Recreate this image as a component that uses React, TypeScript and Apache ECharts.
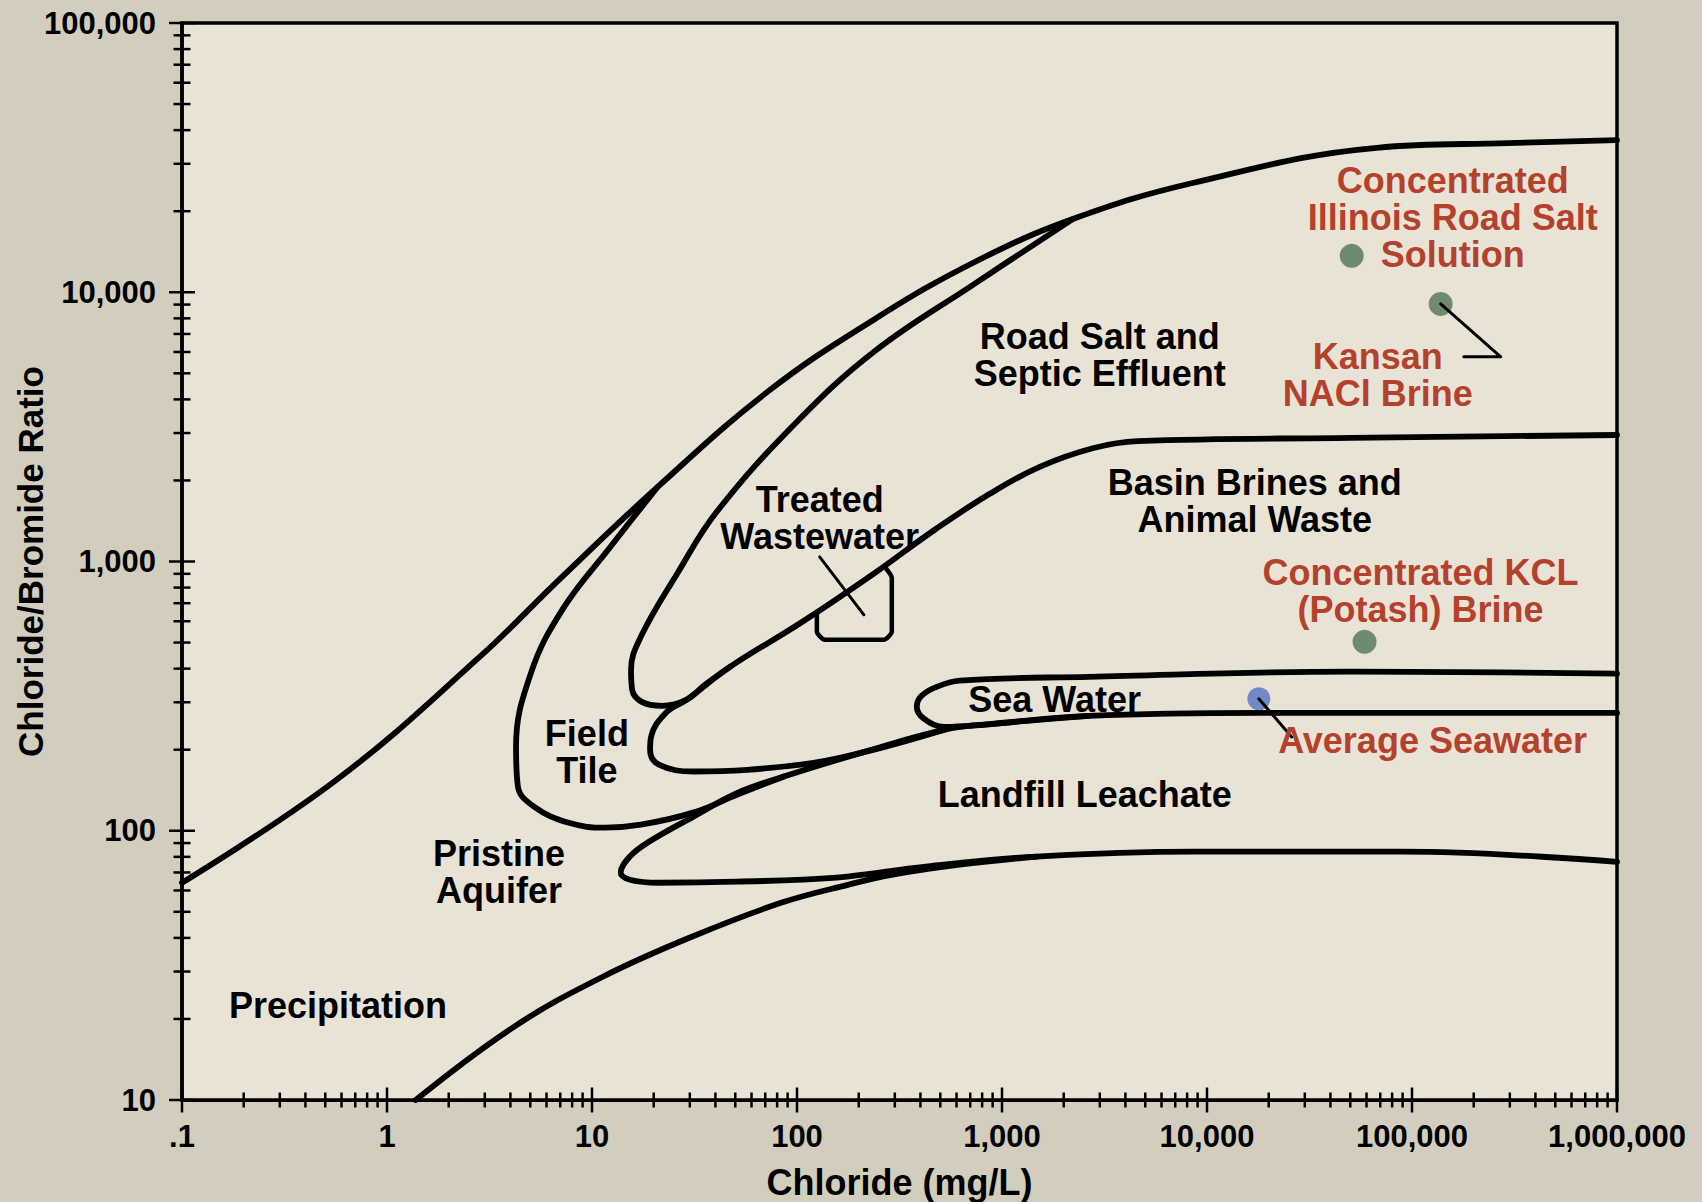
import React, { useEffect, useRef } from "react";
import * as echarts from "echarts";

// ---------- tick labels ----------
const xTickLabels = [".1", "1", "10", "100", "1,000", "10,000", "100,000", "1,000,000"];
const yTickLabels = ["10", "100", "1,000", "10,000", "100,000"];

// ---------- boundary curves (Chloride mg/L, Cl/Br ratio) ----------
const outerEnvelope: number[][] = [
  [0.1, 64.1], [0.57, 155], [2.84, 443], [6.9, 855], [20.9, 1892], [72.9, 4305],
  [240, 7960], [728, 12900], [2213, 18700], [8610, 25500], [67300, 34400],
  [293000, 35800], [1000000, 36700],
];
const fieldTileLoop: number[][] = [
  [20.9, 1892], [12.2, 1125], [7.21, 667], [5.04, 386], [4.26, 205], [4.35, 146],
  [5.21, 123], [7.71, 107], [11.6, 102.7], [17.3, 105.3], [31.4, 117], [50.9, 136], [86.3, 159],
];
const roadSaltLoop: number[][] = [
  [2213, 18700], [728, 10700], [240, 6050], [98.6, 3270], [40.6, 1530], [26.2, 908],
  [17.3, 525], [15.5, 396], [15.7, 334], [17.5, 301], [21.9, 291], [29.0, 307],
  [35.5, 348], [47.1, 406],
];
const basinBrineLoop: number[][] = [
  [1000000, 2950], [50200, 2877], [4600, 2800], [2800, 2640], [1528, 2247], [872, 1784],
  [470, 1312], [240, 908], [104.4, 592], [47.1, 406], [29.0, 307], [22.9, 274], [19.4, 223],
  [19.2, 200], [21.2, 176], [31.4, 166], [104.4, 176], [207, 195], [520, 237],
];
const seaWaterLoop: number[][] = [
  [1000000, 383], [50200, 390], [2650, 373], [622, 361], [470, 340], [402, 315],
  [384, 289], [416, 261], [526, 243], [824, 248], [2650, 267], [18500, 274], [1000000, 274],
];
const landfillLoop: number[][] = [
  [2650, 267], [824, 248], [520, 237], [207, 195], [86.3, 159], [50.9, 138], [31.4, 113],
  [18.7, 90.4], [15.3, 80.2], [13.8, 69.9], [15.3, 65.8], [21.2, 64.1], [50.9, 64.7],
  [156, 67], [425, 73.6], [1479, 80.2], [8610, 83.6], [90200, 83.6], [1000000, 76.7],
];
const precipitationBoundary: number[][] = [
  [1.38, 10], [4.16, 18.7], [11.3, 28.7], [30.7, 40.4], [84.3, 54.1], [179, 63.1],
  [293, 68.7], [622, 74.8], [1479, 80.2],
];
const treatedWastewaterBox: number[][] = [
  [125, 650], [125, 548], [137, 512], [265, 512], [290, 548], [290, 870], [270, 948],
];

// ---------- leaders ----------
const treatedLeader: number[][] = [[129, 1040], [212, 634]];
const kansanLeader: number[][] = [[138000, 9050], [271000, 5755], [179000, 5755]];
const seawaterLeader: number[][] = [[17900, 309], [25900, 223]];

// ---------- sample points ----------
const brineSamples = [
  { name: "Concentrated Illinois Road Salt Solution", value: [50800, 13650] },
  { name: "Kansan NACl Brine", value: [138000, 9050] },
  { name: "Concentrated KCL (Potash) Brine", value: [58700, 503] },
];
const seawaterSample = [{ name: "Average Seawater", value: [17900, 309] }];

// ---------- labels ----------
const regionLabels = [
  { name: "Road Salt and\nSeptic Effluent", value: [3000, 5870] },
  { name: "Treated\nWastewater", value: [129, 1445] },
  { name: "Field\nTile", value: [9.44, 196] },
  { name: "Pristine\nAquifer", value: [3.52, 70.2] },
  { name: "Precipitation", value: [0.577, 22.4] },
  { name: "Basin Brines and\nAnimal Waste", value: [17100, 1679] },
  { name: "Sea Water", value: [1807, 308] },
  { name: "Landfill Leachate", value: [2535, 136] },
];
const sampleLabels = [
  { name: "Concentrated\nIllinois Road Salt\nSolution", value: [158000, 19000] },
  { name: "Kansan\nNACl Brine", value: [68100, 4930] },
  { name: "Concentrated KCL\n(Potash) Brine", value: [110000, 775] },
  { name: "Average Seawater", value: [126000, 216] },
];

const FONT = "'Liberation Sans', Arial, Helvetica, sans-serif";
const X_MIN = 0.1, X_MAX = 1000000, Y_MIN = 10, Y_MAX = 100000;

function logTicks(min: number, max: number): number[] {
  const out: number[] = [];
  for (let e = Math.round(Math.log10(min)); e <= Math.round(Math.log10(max)); e++) {
    for (let k = 1; k <= 9; k++) {
      const v = k * Math.pow(10, e);
      if (v >= min * 0.999 && v <= max * 1.001) out.push(v);
    }
  }
  return out;
}
function isMajor(v: number) {
  const l = Math.log10(v);
  return Math.abs(l - Math.round(l)) < 1e-6;
}

function curve(data: number[][], smooth: number | boolean = 0.4, width = 5.8) {
  return {
    type: "line",
    data,
    smooth,
    symbol: "none",
    silent: true,
    z: 3,
    lineStyle: { color: "#000", width, cap: "round", join: "round", opacity: 1 },
  };
}

export default function App() {
  const ref = useRef<HTMLDivElement>(null);
  useEffect(() => {
    if (!ref.current) return;
    const chart = echarts.init(ref.current, null, { renderer: "svg" });
    const xt = logTicks(X_MIN, X_MAX);
    const yt = logTicks(Y_MIN, Y_MAX);
    const labelBase = {
      show: true,
      position: "inside",
      formatter: "{b}",
      fontFamily: FONT,
      fontWeight: "bold",
      fontSize: 36,
      lineHeight: 37,
      align: "center",
      verticalAlign: "middle",
      opacity: 1,
      textBorderWidth: 0,
    };
    chart.setOption({
      animation: false,
      backgroundColor: "#D3CDBE",
      grid: {
        left: 182, right: 85, top: 23, bottom: 102,
        show: true, backgroundColor: "#E9E3D6", borderColor: "#000", borderWidth: 3.5,
        containLabel: false, outerBoundsMode: "none",
      },
      xAxis: {
        type: "log", logBase: 10, min: X_MIN, max: X_MAX, splitNumber: 7,
        axisLine: { show: true, onZero: false, lineStyle: { color: "#000", width: 3 } },
        axisTick: { show: false }, minorTick: { show: false },
        splitLine: { show: false }, minorSplitLine: { show: false },
        axisLabel: {
          color: "#000", fontFamily: FONT, fontWeight: "bold", fontSize: 31, margin: 21,
          formatter: (v: number) => xTickLabels[Math.round(Math.log10(v)) + 1] ?? "",
        },
        name: "Chloride (mg/L)", nameLocation: "middle", nameGap: 64, nameMoveOverlap: false,
        nameTextStyle: { color: "#000", fontFamily: FONT, fontWeight: "bold", fontSize: 36 },
      },
      yAxis: {
        type: "log", logBase: 10, min: Y_MIN, max: Y_MAX, splitNumber: 4,
        axisLine: { show: true, onZero: false, lineStyle: { color: "#000", width: 3.5 } },
        axisTick: { show: false }, minorTick: { show: false },
        splitLine: { show: false }, minorSplitLine: { show: false },
        axisLabel: {
          color: "#000", fontFamily: FONT, fontWeight: "bold", fontSize: 31, margin: 26,
          formatter: (v: number) => yTickLabels[Math.round(Math.log10(v)) - 1] ?? "",
        },
        name: "Chloride/Bromide Ratio", nameLocation: "middle", nameGap: 134, nameMoveOverlap: false,
        nameTextStyle: { color: "#000", fontFamily: FONT, fontWeight: "bold", fontSize: 35 },
      },
      series: [
        curve(outerEnvelope),
        curve(fieldTileLoop),
        curve(roadSaltLoop),
        curve(basinBrineLoop),
        curve(seaWaterLoop),
        curve(landfillLoop),
        curve(precipitationBoundary),
        curve(treatedWastewaterBox, 0.2, 4.5),
        {
          type: "scatter", data: brineSamples, symbol: "circle", symbolSize: 24, silent: true, z: 4,
          itemStyle: { color: "#6E8B6F", opacity: 1 },
        },
        {
          type: "scatter", data: seawaterSample, symbol: "circle", symbolSize: 23, silent: true, z: 4,
          itemStyle: { color: "#7189C8", opacity: 1 },
        },
        { ...curve(treatedLeader, false, 3), z: 5 },
        { ...curve(kansanLeader, false, 3), z: 5 },
        { ...curve(seawaterLeader, false, 3), z: 5 },
        {
          type: "scatter", data: regionLabels, symbolSize: 1, silent: true, z: 6,
          itemStyle: { color: "rgba(0,0,0,0)", opacity: 1 },
          label: { ...labelBase, color: "#000000" },
        },
        {
          type: "scatter", data: sampleLabels, symbolSize: 1, silent: true, z: 6,
          itemStyle: { color: "rgba(0,0,0,0)", opacity: 1 },
          label: { ...labelBase, color: "#B4412B" },
        },
        {
          type: "custom", coordinateSystem: "cartesian2d", clip: false, silent: true, z: 7,
          data: xt.map((v) => [v, Y_MIN]),
          encode: { x: 0, y: 1 },
          renderItem: (_p: any, api: any) => {
            const v = api.value(0);
            const pt = api.coord([v, api.value(1)]);
            const len = isMajor(v) ? 12.5 : 7.5;
            return {
              type: "line",
              shape: { x1: pt[0], y1: pt[1] - len, x2: pt[0], y2: pt[1] + len },
              style: { stroke: "#000", lineWidth: 2.5 },
            };
          },
        },
        {
          type: "custom", coordinateSystem: "cartesian2d", clip: false, silent: true, z: 7,
          data: yt.map((v) => [X_MIN, v]),
          encode: { x: 0, y: 1 },
          renderItem: (_p: any, api: any) => {
            const v = api.value(1);
            const pt = api.coord([api.value(0), v]);
            const len = isMajor(v) ? 13 : 8.5;
            return {
              type: "line",
              shape: { x1: pt[0] - len, y1: pt[1], x2: pt[0] + len, y2: pt[1] },
              style: { stroke: "#000", lineWidth: 2.5 },
            };
          },
        },
      ],
    });
    return () => chart.dispose();
  }, []);
  return (
    <div
      ref={ref}
      style={{ position: "absolute", left: 0, top: 0, width: 1702, height: 1202 }}
    />
  );
}
